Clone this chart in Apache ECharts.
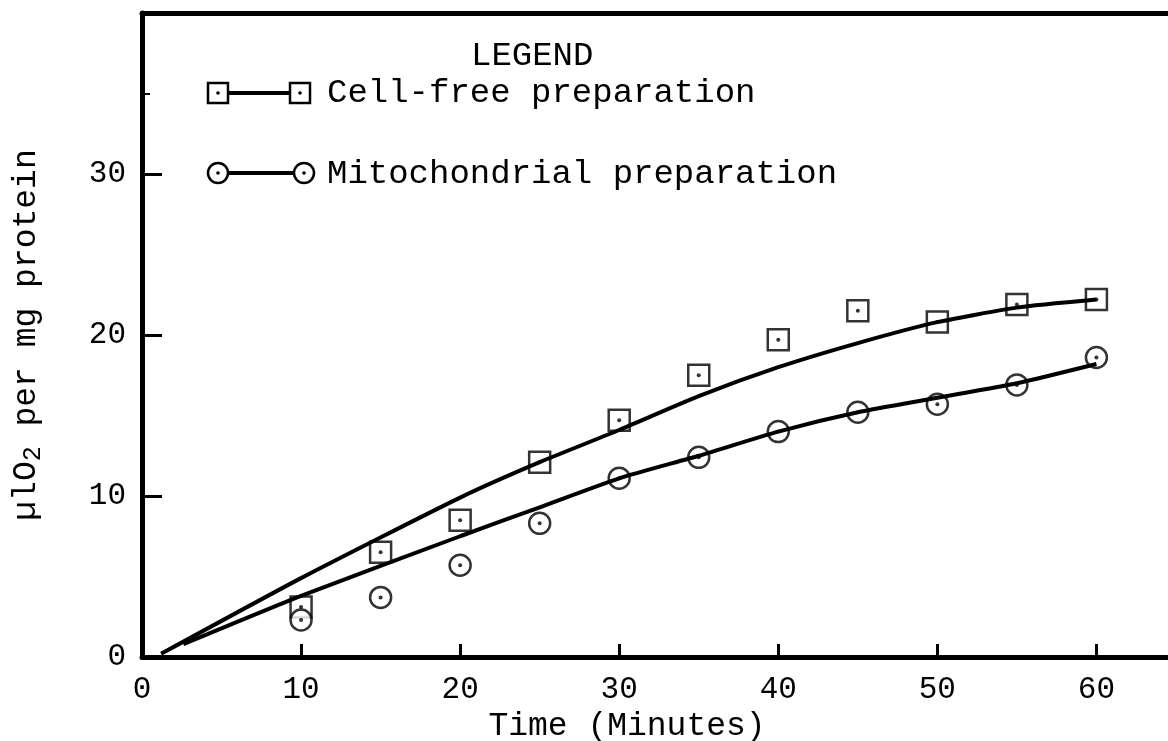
<!DOCTYPE html>
<html>
<head>
<meta charset="utf-8">
<script src="https://cdn.jsdelivr.net/npm/echarts@6/dist/echarts.min.js"></script>
<style>
  html, body { margin: 0; padding: 0; background: #fff; }
  #chart { width: 1168px; height: 741px; }
</style>
</head>
<body>
<div id="chart"></div>
<script>
// measured points (minutes, ul O2 per mg protein)
var minutes = [10, 15, 20, 25, 30, 35, 40, 45, 50, 55, 60];
var cellFree = [3.1, 6.5, 8.5, 12.1, 14.7, 17.5, 19.7, 21.5, 20.8, 21.9, 22.2];
var mito = [2.3, 3.7, 5.7, 8.3, 11.1, 12.4, 14.0, 15.2, 15.7, 16.9, 18.6];

// hand-drawn fitted curves
var cellFreeFitX = [1.2, 10, 20, 25, 30, 35, 40, 45, 50, 55, 60];
var cellFreeFitY = [0.2, 4.9, 9.9, 12.1, 14.1, 16.2, 18.0, 19.5, 20.8, 21.7, 22.2];
var mitoFitX = [2.6, 10, 20, 25, 30, 35, 40, 45, 50, 55, 60];
var mitoFitY = [0.8, 3.8, 7.5, 9.3, 11.1, 12.5, 14.0, 15.2, 16.1, 17.0, 18.2];

var xTicks = [0, 10, 20, 30, 40, 50, 60];
var yTicks = [0, 10, 20, 30];

var FONT = '"Liberation Mono", "DejaVu Sans Mono", monospace';

function pairs(xs, ys) {
    return xs.map(function (x, i) { return [x, ys[i]]; });
}

var chart = echarts.init(document.getElementById('chart'));

var option = {
    backgroundColor: '#fff',
    animation: false,
    grid: { left: 142, right: 0, top: 13, bottom: 84, outerBoundsMode: 'none', containLabel: false },
    xAxis: [{
        type: 'value',
        min: 0,
        max: 64.5,
        interval: 10,
        name: 'Time (Minutes)',
        nameLocation: 'middle',
        nameGap: 39,
        nameTextStyle: { fontFamily: FONT, fontSize: 33, color: '#000', padding: [0, 56, 0, 0] },
        axisLine: { onZero: false, lineStyle: { color: '#000', width: 5 } },
        axisTick: { inside: true, length: 13, lineStyle: { color: '#000', width: 3 } },
        axisLabel: {
            fontFamily: FONT, fontSize: 31, color: '#000', margin: 17,
            showMaxLabel: false,
            formatter: function (v) { return xTicks.indexOf(v) >= 0 ? String(v) : ''; }
        },
        splitLine: { show: false }
    }, {
        type: 'value',
        position: 'top',
        min: 0,
        max: 64.5,
        axisLine: { show: true, onZero: false, lineStyle: { color: '#000', width: 5 } },
        axisTick: { show: false },
        axisLabel: { show: false },
        splitLine: { show: false }
    }],
    yAxis: [{
        type: 'value',
        min: 0,
        max: 40,
        interval: 10,
        name: '{a|\u00b5lO}{s|2}{a| per mg protein}',
        nameLocation: 'middle',
        nameGap: 96,
        nameRotate: 90,
        nameTextStyle: {
            rich: {
                a: { fontFamily: FONT, fontSize: 33, color: '#000', lineHeight: 40, verticalAlign: 'middle' },
                s: { fontFamily: FONT, fontSize: 25, color: '#000', lineHeight: 40, verticalAlign: 'bottom', padding: [12, 0, 0, 0] }
            }
        },
        axisLine: { onZero: false, lineStyle: { color: '#000', width: 5 } },
        axisTick: { inside: true, length: 20, lineStyle: { color: '#000', width: 3 } },
        axisLabel: {
            fontFamily: FONT, fontSize: 31, color: '#000', margin: 16,
            formatter: function (v) { return yTicks.indexOf(v) >= 0 ? String(v) : ''; }
        },
        splitLine: { show: false }
    }, {
        // the lone short tick at 35
        type: 'value',
        position: 'left',
        min: 0,
        max: 40,
        interval: 35,
        axisLine: { show: false, onZero: false },
        axisTick: { show: true, inside: true, length: 8, lineStyle: { color: '#000', width: 2 } },
        axisLabel: { show: false },
        splitLine: { show: false }
    }],
    graphic: [
        { type: 'text', left: 471, top: 39, style: { text: 'LEGEND', font: '34px ' + FONT, fill: '#000' } },
        { type: 'line', shape: { x1: 218, y1: 93, x2: 300, y2: 93 }, style: { stroke: '#000', lineWidth: 4 } },
        { type: 'rect', shape: { x: 208, y: 83, width: 20, height: 20 }, style: { fill: '#fff', stroke: '#000', lineWidth: 2.5 } },
        { type: 'rect', shape: { x: 290, y: 83, width: 20, height: 20 }, style: { fill: '#fff', stroke: '#000', lineWidth: 2.5 } },
        { type: 'circle', shape: { cx: 218, cy: 93, r: 1.8 }, style: { fill: '#000' } },
        { type: 'circle', shape: { cx: 300, cy: 93, r: 1.8 }, style: { fill: '#000' } },
        { type: 'text', left: 327, top: 76, style: { text: 'Cell-free preparation', font: '34px ' + FONT, fill: '#000' } },
        { type: 'line', shape: { x1: 218, y1: 173, x2: 303, y2: 173 }, style: { stroke: '#000', lineWidth: 4 } },
        { type: 'circle', shape: { cx: 218, cy: 173, r: 10 }, style: { fill: '#fff', stroke: '#000', lineWidth: 2.5 } },
        { type: 'circle', shape: { cx: 304, cy: 173, r: 10 }, style: { fill: '#fff', stroke: '#000', lineWidth: 2.5 } },
        { type: 'circle', shape: { cx: 218, cy: 173, r: 1.8 }, style: { fill: '#000' } },
        { type: 'circle', shape: { cx: 304, cy: 173, r: 1.8 }, style: { fill: '#000' } },
        { type: 'text', left: 327, top: 157, style: { text: 'Mitochondrial preparation', font: '34px ' + FONT, fill: '#000' } }
    ],
    series: [{
        name: 'Cell-free fit',
        type: 'line',
        smooth: 0.2,
        showSymbol: false,
        lineStyle: { color: '#000', width: 4 },
        data: pairs(cellFreeFitX, cellFreeFitY)
    }, {
        name: 'Mitochondrial fit',
        type: 'line',
        smooth: 0.2,
        showSymbol: false,
        lineStyle: { color: '#000', width: 4 },
        data: pairs(mitoFitX, mitoFitY)
    }, {
        name: 'Cell-free preparation',
        type: 'scatter',
        symbol: 'rect',
        symbolSize: 21,
        itemStyle: { color: '#fff', borderColor: '#000', borderWidth: 2.5 },
        data: pairs(minutes, cellFree)
    }, {
        name: 'Mitochondrial preparation',
        type: 'scatter',
        symbol: 'circle',
        symbolSize: 21,
        itemStyle: { color: '#fff', borderColor: '#000', borderWidth: 2.5 },
        data: pairs(minutes, mito)
    }, {
        name: 'dots',
        type: 'scatter',
        symbol: 'circle',
        symbolSize: 4,
        itemStyle: { color: '#000' },
        data: pairs(minutes, cellFree).concat(pairs(minutes, mito))
    }]
};

chart.setOption(option);
</script>
</body>
</html>
